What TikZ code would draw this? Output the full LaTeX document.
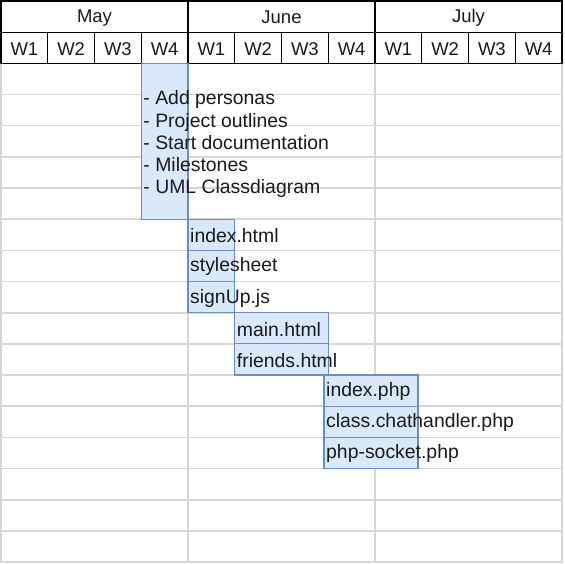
\documentclass[tikz,border=0pt]{standalone}
\usepackage{fontspec}
\setmainfont{Liberation Sans}
\definecolor{gridgrey}{HTML}{D6D6D6}
\definecolor{barfill}{HTML}{DAE8FC}
\definecolor{barline}{HTML}{6C8EBF}
\definecolor{inktext}{HTML}{1A1A1A}
\begin{document}
\begin{tikzpicture}[x=1pt,y=-1pt,
  hdr/.style={draw=black, line width=1.3pt, inner sep=0pt, outer sep=0pt,
    font=\fontsize{18.5}{22}\selectfont, text=inktext},
  hdrtext/.style={inner sep=0pt, font=\fontsize{18.5}{22}\selectfont, text=inktext},
  gridline/.style={draw=gridgrey, line width=1.6pt},
  taskbox/.style={draw=barline, fill=barfill, line width=1.2pt,
    inner sep=0pt, outer sep=0pt, anchor=north west},
  tasktext/.style={inner sep=0pt, anchor=west, align=left, text=inktext,
    font=\fontsize{19.4}{22.2}\selectfont}]
\def\colw{46.75}
\def\rowh{31.17}
\useasboundingbox (0,0) rectangle (564,564);
\fill[white] (0,0) rectangle (564,564);

% body grid
\draw[gridline] (1,63.34) rectangle (562,562);
\foreach \k in {3,...,17}{
  \draw[gridline] (1,{1+\rowh*\k}) -- (562,{1+\rowh*\k});
}
\draw[gridline] (188,63.34) -- (188,562);
\draw[gridline] (375,63.34) -- (375,562);

% month header
\foreach \m/\name [count=\i from 0] in {may/May,jun/June,jul/July}{
  \node[hdr, minimum width=187, minimum height=\rowh, anchor=north west]
    (\m) at ({1+187*\i},1) {};
  \node[hdrtext] at ([yshift=-1pt]\m.center) {\name};
}
% week header
\foreach \i in {0,...,11}{
  \pgfmathtruncatemacro{\w}{mod(\i,4)+1}
  \node[hdr, minimum width=\colw, minimum height=\rowh, anchor=north west]
    (wk\i) at ({1+\colw*\i},{1+\rowh}) {};
  \node[hdrtext] at ([yshift=-1pt]wk\i.center) {W\w};
}

% task bars
\node[taskbox, minimum width=46.75, minimum height={5*\rowh}] (b1) at (141.25,{1+2*\rowh}) {};
\node[taskbox, minimum width=46.75, minimum height=\rowh] (b2) at (188,{1+7*\rowh}) {};
\node[taskbox, minimum width=46.75, minimum height=\rowh] (b3) at (188,{1+8*\rowh}) {};
\node[taskbox, minimum width=46.75, minimum height=\rowh] (b4) at (188,{1+9*\rowh}) {};
\node[taskbox, minimum width=93.5, minimum height=\rowh] (b5) at (234.75,{1+10*\rowh}) {};
\node[taskbox, minimum width=93.5, minimum height=\rowh] (b6) at (234.75,{1+11*\rowh}) {};
\node[taskbox, minimum width=94, minimum height=\rowh] (b7) at (324,{1+12*\rowh}) {};
\node[taskbox, minimum width=94, minimum height=\rowh] (b8) at (324,{1+13*\rowh}) {};
\node[taskbox, minimum width=94, minimum height=\rowh] (b9) at (324,{1+14*\rowh}) {};

% task labels
\node[tasktext] (t1) at ([xshift=2pt,yshift=-3pt]b1.west) {- Add personas\\- Project outlines\\- Start documentation\\- Milestones\\- UML Classdiagram};
\node[tasktext] (t2) at ([xshift=2pt,yshift=-1pt]b2.west) {index.html};
\node[tasktext] (t3) at ([xshift=2pt,yshift=-1pt]b3.west) {stylesheet};
\node[tasktext] (t4) at ([xshift=2pt,yshift=-1pt]b4.west) {signUp.js};
\node[tasktext] (t5) at ([xshift=2pt,yshift=-1pt]b5.west) {main.html};
\node[tasktext] (t6) at ([xshift=2pt,yshift=-1pt]b6.west) {friends.html};
\node[tasktext] (t7) at ([xshift=2pt,yshift=-1pt]b7.west) {index.php};
\node[tasktext] (t8) at ([xshift=2pt,yshift=-1pt]b8.west) {class.chathandler.php};
\node[tasktext] (t9) at ([xshift=2pt,yshift=-1pt]b9.west) {php-socket.php};
\end{tikzpicture}
\end{document}
